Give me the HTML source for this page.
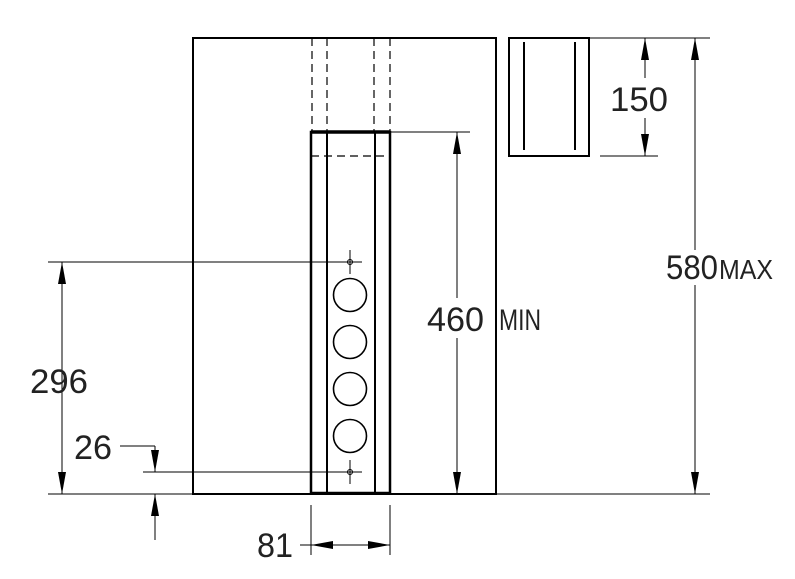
<!DOCTYPE html>
<html><head><meta charset="utf-8"><style>html,body{margin:0;padding:0;background:#fff}svg{display:block}</style></head>
<body>
<svg width="795" height="579" viewBox="0 0 795 579" xmlns="http://www.w3.org/2000/svg" font-family="Liberation Sans, sans-serif">
<defs>
<marker id="a" viewBox="0 0 22 8" refX="22" refY="4" markerWidth="22" markerHeight="8" markerUnits="userSpaceOnUse" orient="auto-start-reverse"><path d="M0,0 L22,4 L0,8 z" fill="#000"/></marker>
</defs>
<g stroke="#000" fill="none">
<rect x="193" y="38" width="303" height="456" stroke-width="2"/>
<g stroke-dasharray="8,5" stroke-width="1.2">
<line x1="312" y1="38" x2="312" y2="132"/><line x1="327" y1="38" x2="327" y2="132"/>
<line x1="374" y1="38" x2="374" y2="132"/><line x1="390" y1="38" x2="390" y2="132"/>
<line x1="311" y1="156" x2="390" y2="156"/>
</g>
<rect x="311" y="132" width="79" height="361" stroke-width="2.5"/>
<line x1="311" y1="132" x2="390" y2="132" stroke-width="3.5"/>
<line x1="327" y1="132" x2="327" y2="493" stroke-width="2"/>
<line x1="375" y1="132" x2="375" y2="493" stroke-width="2"/>
<g stroke-width="1.6">
<circle cx="350" cy="295" r="16.5"/><circle cx="350" cy="342" r="16.5"/><circle cx="350" cy="389" r="16.5"/><circle cx="350" cy="436" r="16.5"/>
</g>
<g stroke-width="1">
<circle cx="350" cy="262" r="2.5"/><circle cx="350" cy="472" r="2.5"/>
<line x1="350" y1="250" x2="350" y2="274"/><line x1="350" y1="460" x2="350" y2="484"/>
<line x1="48" y1="262" x2="362" y2="262"/>
<line x1="143" y1="472" x2="362" y2="472"/>
<line x1="48" y1="494" x2="193" y2="494"/>
<line x1="62" y1="262" x2="62" y2="494" marker-start="url(#a)" marker-end="url(#a)"/>
<line x1="120" y1="446" x2="155" y2="446"/>
<line x1="155" y1="446" x2="155" y2="472" marker-end="url(#a)"/>
<line x1="155" y1="540" x2="155" y2="494" marker-end="url(#a)"/>
<line x1="390" y1="132" x2="470" y2="132"/>
<line x1="457" y1="132" x2="457" y2="298" marker-start="url(#a)"/>
<line x1="457" y1="338" x2="457" y2="494" marker-end="url(#a)"/>
<line x1="311" y1="505" x2="311" y2="555"/><line x1="390" y1="505" x2="390" y2="555"/>
<line x1="300" y1="545" x2="390" y2="545"/>
<line x1="340" y1="545" x2="311" y2="545" marker-end="url(#a)"/>
<line x1="360" y1="545" x2="390" y2="545" marker-end="url(#a)"/>
<line x1="589" y1="38" x2="710" y2="38"/>
<line x1="496" y1="494" x2="710" y2="494"/>
<line x1="600" y1="156" x2="658" y2="156"/>
<line x1="695" y1="38" x2="695" y2="250" marker-start="url(#a)"/>
<line x1="695" y1="285" x2="695" y2="494" marker-end="url(#a)"/>
<line x1="645" y1="38" x2="645" y2="78" marker-start="url(#a)"/>
<line x1="645" y1="118" x2="645" y2="156" marker-end="url(#a)"/>
</g>
<rect x="509" y="38" width="80" height="118" stroke-width="2"/>
<line x1="524" y1="42" x2="524" y2="150" stroke-width="2"/>
<line x1="575" y1="42" x2="575" y2="150" stroke-width="2"/>
</g>
<g fill="#222" font-size="34">
<text x="427" y="331" textLength="57" lengthAdjust="spacingAndGlyphs">460</text>
<text x="499" y="330" font-size="30" textLength="42" lengthAdjust="spacingAndGlyphs">MIN</text>
<text x="666" y="279" textLength="52" lengthAdjust="spacingAndGlyphs">580</text>
<text x="719" y="279" font-size="28" textLength="54" lengthAdjust="spacingAndGlyphs">MAX</text>
<text x="610" y="111" textLength="58" lengthAdjust="spacingAndGlyphs">150</text>
<text x="30" y="393" textLength="58" lengthAdjust="spacingAndGlyphs">296</text>
<text x="74" y="459" textLength="38" lengthAdjust="spacingAndGlyphs">26</text>
<text x="257" y="557" textLength="36" lengthAdjust="spacingAndGlyphs">81</text>
</g>
</svg>
</body></html>
